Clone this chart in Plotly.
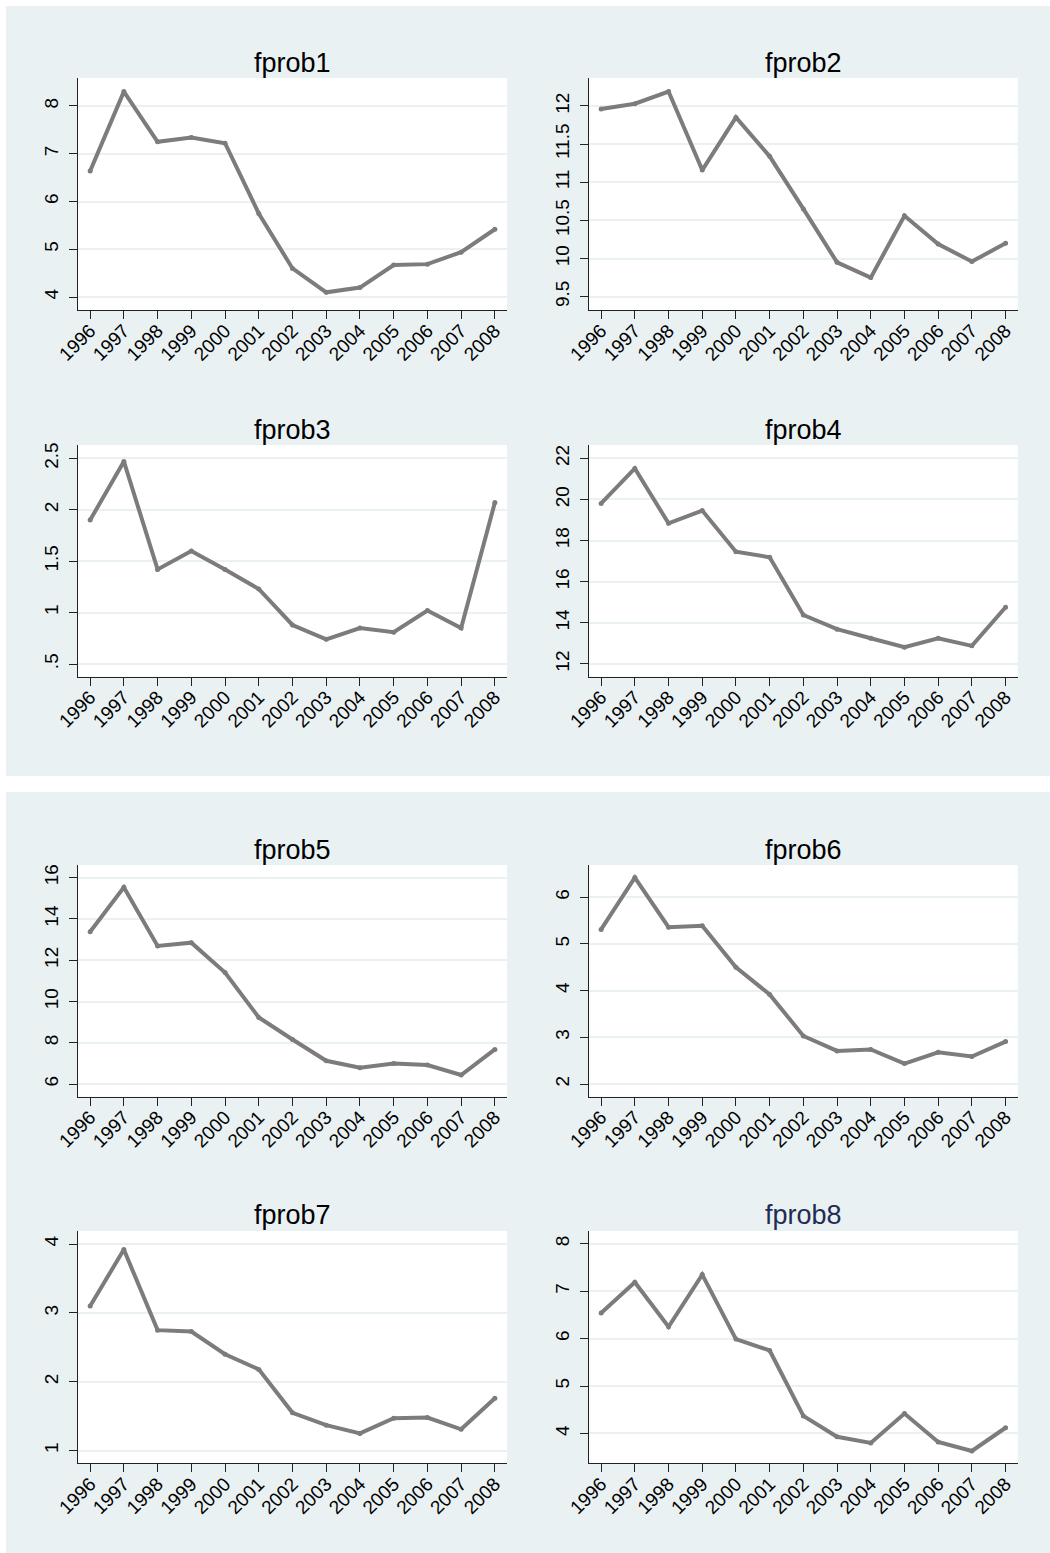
import plotly.graph_objects as go

# ---------------- data ----------------
years = list(range(1996, 2009))
year_labels = [str(y) for y in years]
titles = ["fprob1", "fprob2", "fprob3", "fprob4", "fprob5", "fprob6", "fprob7", "fprob8"]

fprob1 = [6.64, 8.30, 7.25, 7.34, 7.22, 5.75, 4.60, 4.10, 4.20, 4.67, 4.69, 4.94, 5.42]
fprob2 = [11.96, 12.03, 12.19, 11.16, 11.85, 11.34, 10.65, 9.95, 9.75, 10.56, 10.19, 9.96, 10.20]
fprob3 = [1.90, 2.47, 1.42, 1.60, 1.42, 1.23, 0.88, 0.74, 0.85, 0.81, 1.02, 0.85, 2.07]
fprob4 = [19.81, 21.51, 18.84, 19.46, 17.46, 17.19, 14.38, 13.69, 13.25, 12.81, 13.25, 12.88, 14.76]
fprob5 = [13.38, 15.53, 12.69, 12.85, 11.40, 9.23, 8.16, 7.13, 6.79, 7.00, 6.92, 6.44, 7.68]
fprob6 = [5.31, 6.42, 5.36, 5.39, 4.50, 3.92, 3.03, 2.71, 2.74, 2.44, 2.68, 2.59, 2.91]
fprob7 = [3.10, 3.92, 2.75, 2.73, 2.40, 2.18, 1.55, 1.37, 1.25, 1.47, 1.48, 1.31, 1.76]
fprob8 = [6.54, 7.19, 6.25, 7.35, 5.99, 5.75, 4.37, 3.93, 3.80, 4.42, 3.82, 3.63, 4.12]
series = [fprob1, fprob2, fprob3, fprob4, fprob5, fprob6, fprob7, fprob8]

ytick_vals = [
    [4, 5, 6, 7, 8],
    [9.5, 10, 10.5, 11, 11.5, 12],
    [0.5, 1, 1.5, 2, 2.5],
    [12, 14, 16, 18, 20, 22],
    [6, 8, 10, 12, 14, 16],
    [2, 3, 4, 5, 6],
    [1, 2, 3, 4],
    [4, 5, 6, 7, 8],
]
ytick_text = [
    ["4", "5", "6", "7", "8"],
    ["9.5", "10", "10.5", "11", "11.5", "12"],
    [".5", "1", "1.5", "2", "2.5"],
    ["12", "14", "16", "18", "20", "22"],
    ["6", "8", "10", "12", "14", "16"],
    ["2", "3", "4", "5", "6"],
    ["1", "2", "3", "4"],
    ["4", "5", "6", "7", "8"],
]

# ---------------- layout config ----------------
W, H = 1050, 1553
y_ranges = [
    [3.73, 8.585], [9.325, 12.367], [0.377, 2.63], [11.38, 22.65],
    [5.39, 16.61], [1.73, 6.69], [0.816, 4.19], [3.37, 8.27],
]
x_range = [1995.64, 2008.36]
col_px = [(78, 507), (589, 1017.7)]
row_px = [(78, 310), (445, 676.7), (865, 1096.7), (1231, 1463.3)]
title_px = [63, 430, 850, 1215]
panel_px = [(6, 1050, 6, 776), (6, 1050, 792, 1553)]

BG = "#EAF1F3"
LINE = "#7C7C7C"
FONT = "Liberation Sans, Arial, Helvetica, sans-serif"

fig = go.Figure()
shapes = []
annotations = []

for (x0, x1, y0, y1) in panel_px:
    shapes.append(dict(type="rect", xref="paper", yref="paper", layer="below",
                       x0=x0 / W, x1=x1 / W, y0=1 - y1 / H, y1=1 - y0 / H,
                       fillcolor=BG, line=dict(width=0)))

layout_axes = {}
for i in range(8):
    r, c = divmod(i, 2)
    n = i + 1
    xs = "" if n == 1 else str(n)
    cx0, cx1 = col_px[c]
    ry0, ry1 = row_px[r]
    xdom = [cx0 / W, cx1 / W]
    ydom = [1 - ry1 / H, 1 - ry0 / H]

    fig.add_trace(go.Scatter(
        x=years, y=series[i], mode="lines+markers",
        line=dict(color=LINE, width=4),
        marker=dict(color=LINE, size=5),
        xaxis="x" + xs, yaxis="y" + xs, showlegend=False, hoverinfo="x+y"))

    layout_axes["xaxis" + xs] = dict(
        domain=xdom, anchor="y" + xs, range=x_range, automargin=False,
        tickmode="array", tickvals=years, ticktext=year_labels,
        tickangle=-45, ticks="outside", ticklen=8, tickwidth=1.3, tickcolor="#222222",
        showline=True, linecolor="#222222", linewidth=1.3, mirror=False,
        showgrid=False, zeroline=False, ticklabelstandoff=-7,
        tickfont=dict(family=FONT, size=19, color="#000000"))
    layout_axes["yaxis" + xs] = dict(
        domain=ydom, anchor="x" + xs, range=y_ranges[i], automargin=False,
        tickmode="array", tickvals=ytick_vals[i], ticktext=ytick_text[i],
        tickangle=-90, ticks="outside", ticklen=8, tickwidth=1.3, tickcolor="#222222",
        showline=True, linecolor="#222222", linewidth=1.3, mirror=False,
        showgrid=True, gridcolor=BG, gridwidth=1.6, zeroline=False,
        ticklabelstandoff=3,
        tickfont=dict(family=FONT, size=19, color="#000000"))

    # white plot region over panel background
    shapes.append(dict(type="rect", xref="x" + xs + " domain", yref="y" + xs + " domain",
                       layer="below", x0=0, x1=1, y0=0, y1=1,
                       fillcolor="#FFFFFF", line=dict(width=0)))

    annotations.append(dict(
        text=titles[i], xref="paper", yref="paper",
        x=(cx0 + cx1) / 2 / W, y=1 - title_px[r] / H,
        xanchor="center", yanchor="middle", showarrow=False,
        font=dict(family=FONT, size=27, color="#1F2D55" if n == 8 else "#000000")))

fig.update_layout(
    width=W, height=H, margin=dict(l=0, r=0, t=0, b=0, pad=0),
    paper_bgcolor="#FFFFFF", plot_bgcolor="rgba(0,0,0,0)",
    shapes=shapes, annotations=annotations, showlegend=False,
    font=dict(family=FONT),
    **layout_axes)

fig.write_html("out.html", config={"displayModeBar": False},
               post_script="document.body.style.margin='0';document.body.style.overflow='hidden';")
